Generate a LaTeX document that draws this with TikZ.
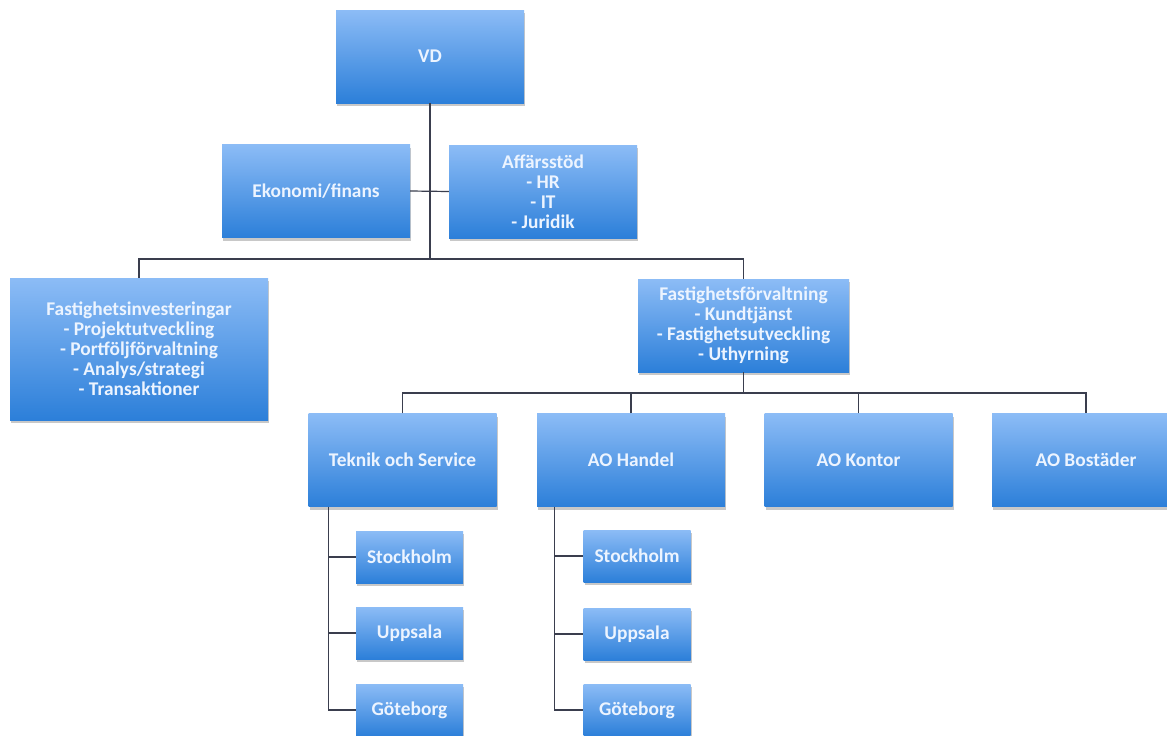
\documentclass[tikz,border=0pt]{standalone}
\usepackage{fontspec}
\setmainfont{Carlito}
\usetikzlibrary{shadows}
\definecolor{boxtop}{RGB}{140,188,246}
\definecolor{boxbot}{RGB}{44,127,217}
\definecolor{txt}{RGB}{236,244,255}
\definecolor{linec}{RGB}{58,62,78}
\tikzset{
  orgbox/.style={rectangle, top color=boxtop, bottom color=boxbot, draw=none,
    text=txt, align=center, inner sep=2pt,
    font=\fontsize{19.4}{20}\selectfont\bfseries,
    drop shadow={shadow xshift=1pt, shadow yshift=-3pt, opacity=0.3, fill=black!70}},
  big/.style={orgbox, minimum width=188pt, minimum height=93pt},
  small/.style={orgbox, minimum width=107pt, minimum height=52pt},
  conn/.style={draw=linec, line width=1.2pt}
}
\begin{document}
\begin{tikzpicture}[x=1pt,y=-1pt]
\useasboundingbox (0,0) rectangle (1167,736);
\clip (0,0) rectangle (1167,736);
\fill[white] (0,0) rectangle (1167,736);
% top level
\node[big] (vd) at (430,56.5) {VD};
\node[big] (eko) at (316,191) {Ekonomi/finans};
\node[big] (aff) at (543,191.5) {Affärsstöd\\- HR\\- IT\\- Juridik};
\node[orgbox, minimum width=258pt, minimum height=142pt] (finv) at (139,349)
  {Fastighetsinvesteringar\\- Projektutveckling\\- Portföljförvaltning\\- Analys/strategi\\- Transaktioner};
\node[orgbox, minimum width=211pt, minimum height=93pt] (fforv) at (743.5,325.5)
  {Fastighetsförvaltning\\- Kundtjänst\\- Fastighetsutveckling\\- Uthyrning};
% third level
\node[big] (tek) at (402.5,460) {Teknik och Service};
\node[big] (han) at (631,460) {AO Handel};
\node[big] (kon) at (858.5,460) {AO Kontor};
\node[big] (bos) at (1086,460) {AO Bostäder};
% sub boxes
\node[small] (ts1) at (409.5,557) {Stockholm};
\node[small] (ts2) at (409.5,633) {Uppsala};
\node[small] (ts3) at (409.5,710) {Göteborg};
\node[small] (hs1) at (637,556) {Stockholm};
\node[small] (hs2) at (637,634) {Uppsala};
\node[small] (hs3) at (637,710) {Göteborg};
% connectors
\coordinate (b1) at (430,259);
\coordinate (b2) at (743.5,393);
\draw[conn] (vd.south) -- (b1);
\draw[conn] (eko.east) -- (aff.west);
\draw[conn] (finv.north) |- (b1) -| (fforv.north);
\draw[conn] (fforv.south) -- (b2);
\draw[conn] (tek.north) |- (b2) -| (bos.north);
\draw[conn] (han.north) -- (han.north |- b2);
\draw[conn] (kon.north) -- (kon.north |- b2);
\coordinate (tk) at ([xshift=20pt]tek.south west);
\coordinate (hk) at ([xshift=18pt]han.south west);
\draw[conn] (tk) |- (ts3.west);
\draw[conn] (tk |- ts1.west) -- (ts1.west);
\draw[conn] (tk |- ts2.west) -- (ts2.west);
\draw[conn] (hk) |- (hs3.west);
\draw[conn] (hk |- hs1.west) -- (hs1.west);
\draw[conn] (hk |- hs2.west) -- (hs2.west);
\end{tikzpicture}
\end{document}
